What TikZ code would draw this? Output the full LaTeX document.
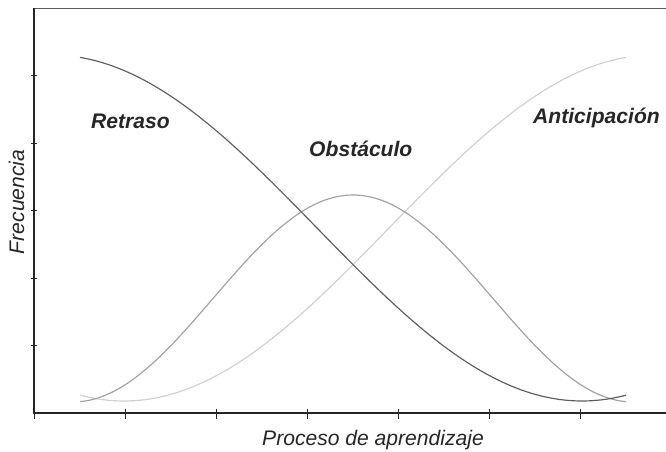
\documentclass[tikz,border=0pt]{standalone}
\usepackage{fontspec}
\setmainfont{Liberation Sans}
\definecolor{retraso}{HTML}{5E5E5E}
\definecolor{obstaculo}{HTML}{A2A2A2}
\definecolor{anticipa}{HTML}{CFCFCF}
\definecolor{eje}{HTML}{262626}

\begin{document}
\begin{tikzpicture}[x=0.03cm, y=-0.03cm,
  curva/.style={line width=1pt, smooth},
  etiqueta/.style={inner sep=0pt, text=eje, font=\fontsize{18}{20}\selectfont\bfseries\itshape},
  rotulo/.style={inner sep=0pt, text=eje, font=\fontsize{18}{20}\selectfont\itshape}]
\useasboundingbox (0,0) rectangle (666,452);

\coordinate (o) at (34,413);
\coordinate (ytop) at (34,8.5);
\coordinate (xend) at (666,413);
\draw[line width=1.6pt, color=retraso] (33,8.5) -- (666,8.5);
\draw[line width=1.2pt, color=eje] (ytop) -- (o) -- (xend);

\draw[line width=0.8pt, color=eje] (31,75.5) -- (37,75.5);
\draw[line width=0.8pt, color=eje] (31,143) -- (37,143);
\draw[line width=0.8pt, color=eje] (31,210.5) -- (37,210.5);
\draw[line width=0.8pt, color=eje] (31,278) -- (37,278);
\draw[line width=0.8pt, color=eje] (31,345.5) -- (37,345.5);
\draw[line width=0.8pt, color=eje] (34,409) -- (34,419);
\draw[line width=0.8pt, color=eje] (125,409) -- (125,419);
\draw[line width=0.8pt, color=eje] (216,409) -- (216,419);
\draw[line width=0.8pt, color=eje] (307,409) -- (307,419);
\draw[line width=0.8pt, color=eje] (398,409) -- (398,419);
\draw[line width=0.8pt, color=eje] (489,409) -- (489,419);
\draw[line width=0.8pt, color=eje] (580,409) -- (580,419);

\draw[curva, color=anticipa] plot[domain=80:626, samples=91] (\x, {228-173*cos(0.33962*(654-\x))});
\draw[curva, color=obstaculo] plot[domain=80:626, samples=91] (\x, {298.5-103.5*cos(0.642857*(\x-353))});
\draw[curva, color=retraso] plot[domain=80:626, samples=91] (\x, {228-173*cos(0.33962*(\x-52))});

\node[etiqueta, anchor=base west] (retraso) at (91,129) {Retraso};
\node[etiqueta, anchor=base west] (obstaculo) at (309,157) {Obstáculo};
\node[etiqueta, anchor=base west] (anticipacion) at (533,124) {Anticipación};
\node[rotulo, anchor=base] (proceso) at (373,445) {Proceso de aprendizaje};
\node[rotulo, anchor=base, rotate=90] (frecuencia) at (24,202) {Frecuencia};
\end{tikzpicture}
\end{document}
